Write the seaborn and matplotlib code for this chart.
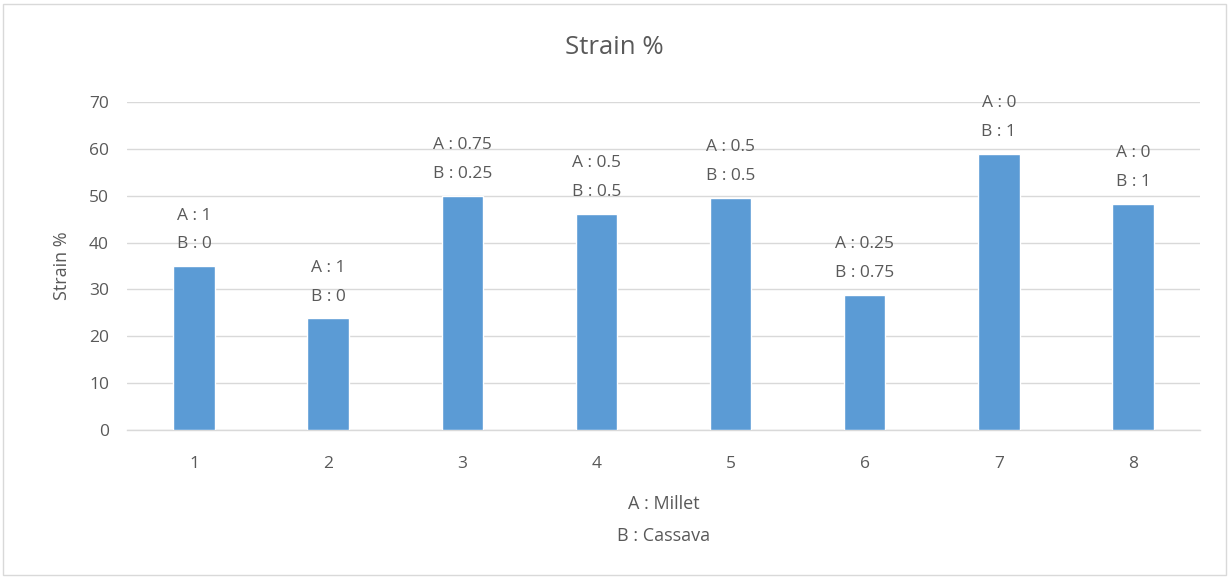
import matplotlib
matplotlib.use("Agg")
import matplotlib.pyplot as plt
import seaborn as sns
import pandas as pd
from matplotlib.patches import Rectangle

categories = ["1", "2", "3", "4", "5", "6", "7", "8"]
strain = [35.0, 23.8, 50.0, 46.1, 49.6, 28.9, 59.0, 48.3]
share_a = ["1", "1", "0.75", "0.5", "0.5", "0.25", "0", "0"]
share_b = ["0", "0", "0.25", "0.5", "0.5", "0.75", "1", "1"]

sns.set_theme(style="white")
plt.rcParams['font.family'] = ['Open Sans', 'DejaVu Sans']
txt = "#595959"
grid = "#d9d9d9"

df = pd.DataFrame({"Sample": categories, "Strain": strain})

fig = plt.figure(figsize=(12.29, 5.78), dpi=100)
ax = fig.add_axes([127/1229, 1-430/578, (1200-127)/1229, (430-102)/578])

sns.barplot(data=df, x="Sample", y="Strain", color="#5B9BD5", width=0.31,
            saturation=1, ax=ax, zorder=3)

ax.set_ylim(0, 70)
ax.set_yticks(range(0, 71, 10))
ax.yaxis.grid(True, color=grid, linewidth=1, zorder=0)
ax.set_axisbelow(True)
for s in ["top", "right", "left"]:
    ax.spines[s].set_visible(False)
ax.spines["bottom"].set_color(grid)
ax.spines["bottom"].set_linewidth(1)
ax.tick_params(axis="both", length=0, colors=txt, labelsize=12.5)
ax.tick_params(axis="y", pad=13)
ax.tick_params(axis="x", pad=19)

ax.set_ylabel("Strain %", color=txt, fontsize=13, labelpad=13)
ax.set_xlabel("A : Millet\nB : Cassava", color=txt, fontsize=13,
              labelpad=16, linespacing=2.0)
fig.text(0.5, 1-48/578, "Strain %", ha="center", va="center",
         color=txt, fontsize=18.5)

for i, p in enumerate(ax.patches):
    x = p.get_x() + p.get_width()/2
    y = p.get_height()
    ax.annotate(f"A : {share_a[i]}\nB : {share_b[i]}", (x, y),
                xytext=(0, 10), textcoords="offset points", ha="center",
                va="bottom", color=txt, fontsize=12.5, linespacing=2.05,
                annotation_clip=False)

fig.patches.append(Rectangle((3/1229, 3/578), 1-6/1229, 1-7/578,
                             transform=fig.transFigure, fill=False,
                             edgecolor=grid, linewidth=1))

fig.savefig("out.png", dpi=100, facecolor="white")
